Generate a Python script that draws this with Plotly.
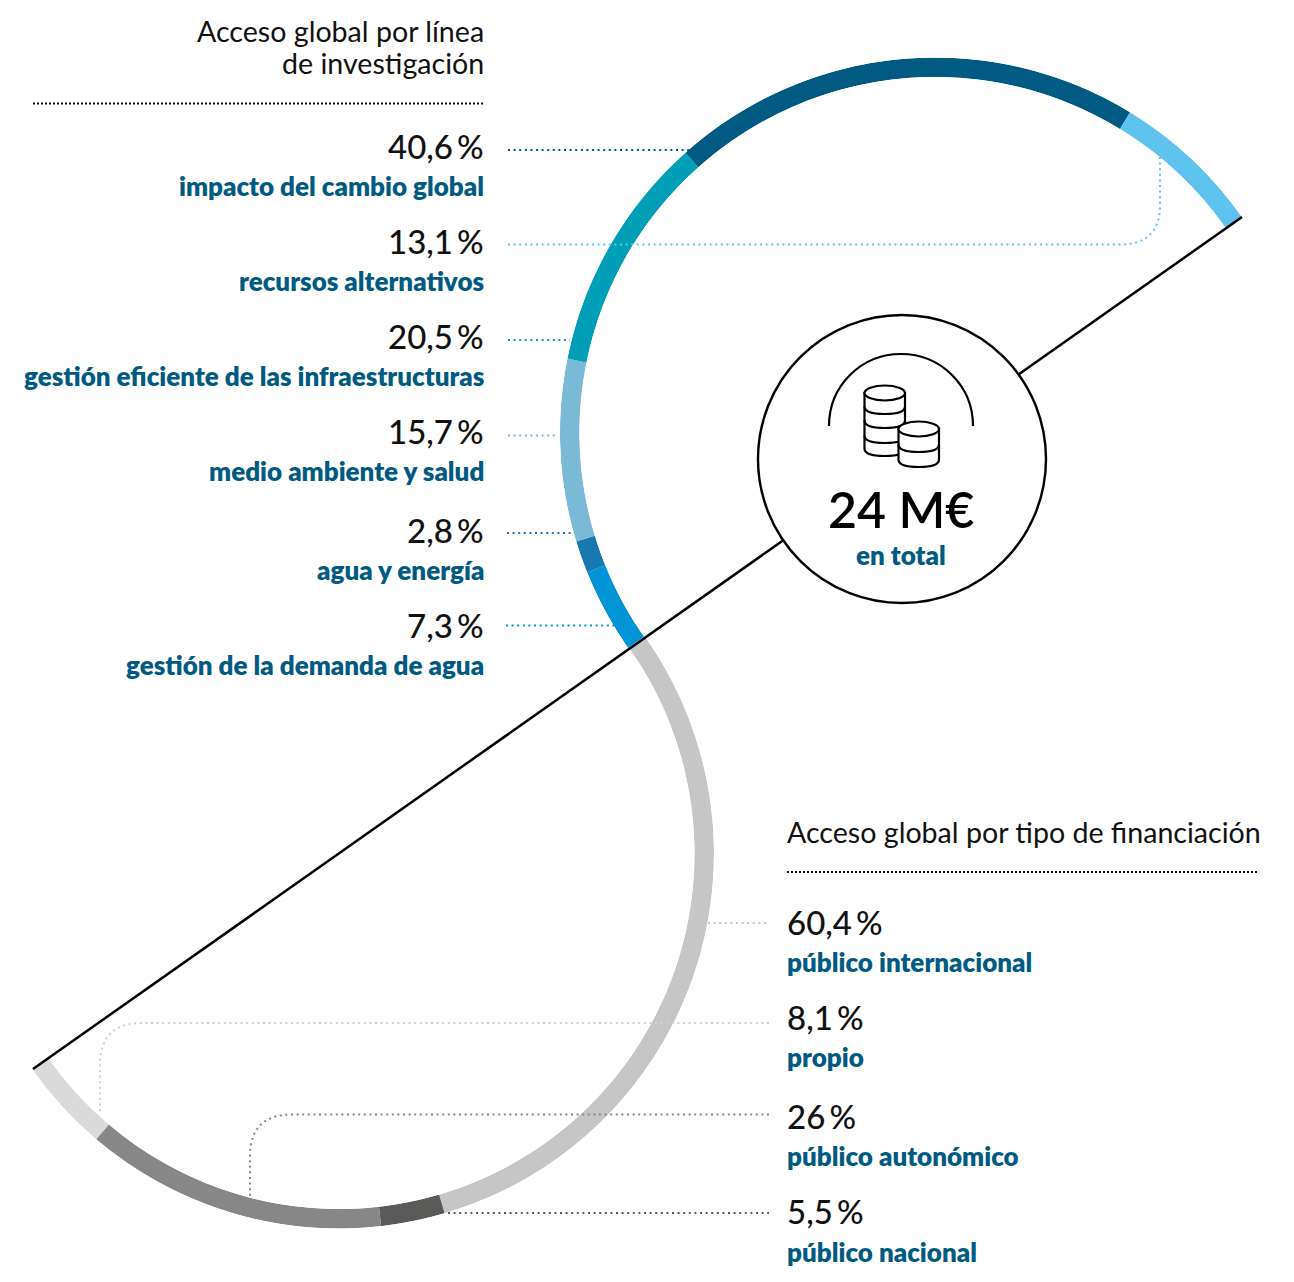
import math
import plotly.graph_objects as go

# Research-line breakdown, in clockwise order along the upper half ring
line_names = ["gestión de la demanda de agua", "agua y energía", "medio ambiente y salud",
              "gestión eficiente de las infraestructuras", "impacto del cambio global", "recursos alternativos"]
line_values = [7.3, 2.8, 15.7, 20.5, 40.6, 13.1]
line_colors = ["#0093d6", "#1779b0", "#7bbad6", "#009fb7", "#005a82", "#5ec4ee"]

# Funding-type breakdown, in clockwise order along the lower half ring
fund_names = ["público internacional", "público nacional", "público autonómico", "propio"]
fund_values = [60.4, 5.5, 26, 8.1]
fund_colors = ["#c6c6c6", "#5a5a59", "#878787", "#dadada"]

# Reading order of the side lists (top to bottom)
line_order = [4, 5, 3, 2, 1, 0]
fund_order = [0, 3, 2, 1]

W, H = 1294, 1282
R = 375
TILT = 35.07
HOLE = 0.948
UP_C = (935, 432.5)
LOW_C = (339, 853.5)
LABEL_FONT = "Lato"
NAVY = "#005a82"


def px(x):
    return x / W


def py(y):
    return 1 - y / H


def path(*pts):
    """Build a paper-referenced path; a 4-tuple is a quadratic segment."""
    out = []
    for i, p in enumerate(pts):
        if len(p) == 4:
            out.append(f"Q {px(p[0])} {py(p[1])} {px(p[2])} {py(p[3])}")
        else:
            out.append(f"{'M' if i == 0 else 'L'} {px(p[0])} {py(p[1])}")
    return " ".join(out)


def ring_trace(values, colors, subplot, names):
    # Each percentage spans its share of a 180 degree sector
    theta, width, start = [], [], 0.0
    for v in values:
        span = v * 180 / sum(values)
        theta.append(start + span / 2)
        width.append(span)
        start += span
    return go.Barpolar(r=[1] * len(values), theta=theta, width=width, subplot=subplot, text=names,
                       marker=dict(color=colors, line=dict(width=0)), hoverinfo="text", showlegend=False)


def polar_layout(rotation, sector, x0, x1, y0, y1):
    return dict(
        domain=dict(x=[px(x0), px(x1)], y=[py(y1), py(y0)]),
        sector=sector, hole=HOLE, bgcolor="rgba(0,0,0,0)",
        radialaxis=dict(visible=False, range=[0, 1]),
        angularaxis=dict(visible=False, rotation=rotation, direction="clockwise", thetaunit="degrees"),
    )


cx_off = R * math.cos(math.radians(TILT))
cy_off = R * math.sin(math.radians(TILT))

fig = go.Figure()
fig.add_trace(ring_trace(line_values, line_colors, "polar", line_names))
fig.add_trace(ring_trace(fund_values, fund_colors, "polar2", fund_names))

shapes = []


def leader(color, *pts, dash="2px,3.6px"):
    shapes.append(dict(type="path", path=path(*pts), xref="paper", yref="paper",
                       line=dict(color=color, width=2, dash=dash)))


# Leaders of the research lines
leader(line_colors[4], (508, 150), (692, 150))
leader(line_colors[5], (508, 244.5), (1120, 244.5), (1160, 244.5, 1160, 205), (1160, 155))
leader(line_colors[3], (508, 340), (570, 340))
leader(line_colors[2], (508, 435.5), (558, 435.5))
leader(line_colors[1], (507, 533), (574, 533))
leader(line_colors[0], (506, 625.5), (614, 625.5))

# Leaders of the funding types
leader(fund_colors[0], (708, 923), (769, 923))
leader("#d0d0d0", (769, 1023), (142, 1023), (100, 1023, 100, 1065), (100, 1115))
leader(fund_colors[2], (769, 1114.5), (292, 1114.5), (250, 1114.5, 250, 1156), (250, 1198))
leader(fund_colors[1], (448, 1213), (769, 1213))

# Dotted rules under both headings
leader("#111111", (33, 103.5), (483, 103.5), dash="2px,2px")
leader("#111111", (787, 872), (1258, 872), dash="2px,2px")

# Diagonal, then the central disc on top of it
shapes.append(dict(type="line", xref="paper", yref="paper", x0=px(33), y0=py(1069), x1=px(1242), y1=py(217),
                   line=dict(color="#000000", width=2.5)))
shapes.append(dict(type="circle", xref="paper", yref="paper", x0=px(758), y0=py(315), x1=px(1046), y1=py(603),
                   fillcolor="#ffffff", line=dict(color="#000000", width=2.4)))

# Arc over the coins
ARC = [(829, 426), (829, 396, 850, 375), (871, 354, 901, 354), (931, 354, 952, 375), (973, 396, 973, 426)]
shapes.append(dict(type="path", path=path(*ARC), xref="paper", yref="paper", line=dict(color="#000000", width=2.2)))


def coin_stack(x0, x1, top, steps):
    mid = (x0 + x1) / 2
    ry = 7.5
    bottom = steps[-1]
    body = path((x0, top), (x0, bottom - ry), (x0, bottom, mid, bottom), (x1, bottom, x1, bottom - ry), (x1, top))
    shapes.append(dict(type="path", path=body + " Z", xref="paper", yref="paper", fillcolor="#ffffff",
                       line=dict(color="#000000", width=2.2)))
    for s in steps[:-1]:
        shapes.append(dict(type="path", path=path((x0, s - ry), (x0, s, mid, s), (x1, s, x1, s - ry)),
                           xref="paper", yref="paper", line=dict(color="#000000", width=2.2)))
    shapes.append(dict(type="circle", xref="paper", yref="paper", x0=px(x0), x1=px(x1), y0=py(top - ry), y1=py(top + ry),
                       fillcolor="#ffffff", line=dict(color="#000000", width=2.2)))


coin_stack(864.5, 905, 393, [414, 428, 443, 456])
coin_stack(898.5, 939, 429, [452, 467])

annotations = []


def text(x, y, s, size, color="#111111", anchor="right", weight=400):
    # Annotation padding is offset so the glyphs sit flush with the anchor
    shift = {"right": 2, "left": -2, "center": 0}[anchor]
    annotations.append(dict(x=px(x), y=py(y), xref="paper", yref="paper", text=s, showarrow=False,
                            xanchor=anchor, yanchor="middle", xshift=shift, yshift=1,
                            font=dict(family=LABEL_FONT, size=size, color=color, weight=weight)))


def pct(v):
    return f"{v:g}".replace(".", ",") + "\u2009%"


TITLE_SIZE = 28.6
VALUE_SIZE = 33
NAME_SIZE = 26

text(484, 32, "Acceso global por línea", TITLE_SIZE)
text(484, 64, "de investigación", TITLE_SIZE)
text(787, 833, "Acceso global por tipo de financiación", TITLE_SIZE, anchor="left")

line_value_y = [147, 242, 337, 432, 531, 626]
line_name_y = [187, 282, 377, 472, 571, 666]
for i, vy, ny in zip(line_order, line_value_y, line_name_y):
    text(484, vy, pct(line_values[i]), VALUE_SIZE, weight=500)
    text(484, ny, line_names[i], NAME_SIZE, NAVY, weight=800)

fund_value_y = [923, 1018, 1117, 1212]
fund_name_y = [963, 1058, 1157, 1253]
for i, vy, ny in zip(fund_order, fund_value_y, fund_name_y):
    text(787, vy, pct(fund_values[i]), VALUE_SIZE, anchor="left", weight=500)
    text(787, ny, fund_names[i], NAME_SIZE, NAVY, anchor="left", weight=800)

text(901, 510, "24 M€", 50, "#000000", anchor="center", weight=600)
text(901, 556, "en total", NAME_SIZE, NAVY, anchor="center", weight=800)

fig.update_layout(
    width=W, height=H, autosize=False,
    margin=dict(l=0, r=0, t=0, b=0),
    paper_bgcolor="#ffffff", showlegend=False,
    polar=polar_layout(180 + TILT, [TILT, 180 + TILT],
                       UP_C[0] - R, UP_C[0] + cx_off, UP_C[1] - R, UP_C[1] + cy_off),
    polar2=polar_layout(TILT, [180 + TILT, 360 + TILT],
                        LOW_C[0] - cx_off, LOW_C[0] + R, LOW_C[1] - cy_off, LOW_C[1] + R),
    shapes=shapes, annotations=annotations,
)

fig.write_html("out.html")
